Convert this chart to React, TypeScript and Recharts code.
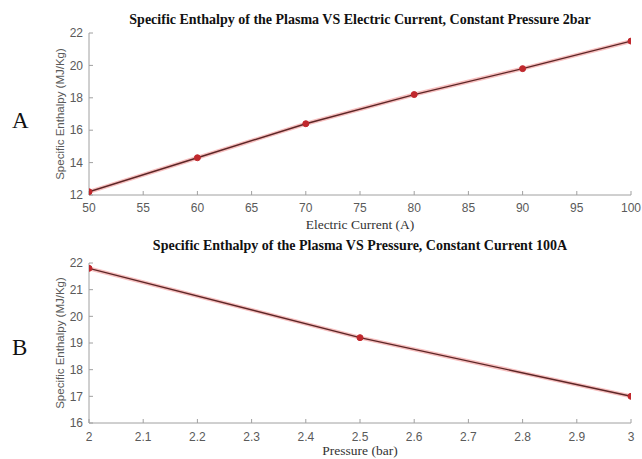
import { LineChart, Line, XAxis, YAxis, Label } from "recharts";

// chart A: enthalpy vs current, pressure fixed at 2 bar
const currentA = [50, 60, 70, 80, 90, 100];
const enthalpyA = [12.2, 14.3, 16.4, 18.2, 19.8, 21.5];
const currentTicks = [50, 55, 60, 65, 70, 75, 80, 85, 90, 95, 100];
const enthalpyTicksA = [12, 14, 16, 18, 20, 22];

// chart B: enthalpy vs pressure, current fixed at 100 A
const pressureB = [2, 2.5, 3];
const enthalpyB = [21.8, 19.2, 17.0];
const pressureTicks = [2, 2.1, 2.2, 2.3, 2.4, 2.5, 2.6, 2.7, 2.8, 2.9, 3];
const enthalpyTicksB = [16, 17, 18, 19, 20, 21, 22];

const dataA = currentA.map((x, i) => ({ x, y: enthalpyA[i] }));
const dataB = pressureB.map((x, i) => ({ x, y: enthalpyB[i] }));

const serif = "'Liberation Serif', 'Times New Roman', serif";
const sans = "'Liberation Sans', Arial, sans-serif";
const frame = "#a0a0a0";
const tickFont = { fill: "#5a5a5a", fontSize: 12, fontFamily: sans };

interface PanelProps {
  data: { x: number; y: number }[];
  xTicks: number[];
  yTicks: number[];
  xDomain: [number, number];
  yDomain: [number, number];
  xLabel: string;
  height: number;
  marginTop: number;
  plotHeight: number;
  xTickMargin: number;
  xLabelOffset: number;
}

function Panel(p: PanelProps) {
  return (
    <LineChart
      width={642}
      height={p.height}
      data={p.data}
      margin={{ top: p.marginTop, right: 11, left: 40, bottom: 0 }}
      style={{ overflow: "visible" }}
    >
      <XAxis
        xAxisId="b"
        dataKey="x"
        type="number"
        domain={p.xDomain}
        ticks={p.xTicks}
        allowDataOverflow
        stroke={frame}
        tick={tickFont}
        tickSize={-4}
        tickMargin={p.xTickMargin}
        height={p.height - p.marginTop - p.plotHeight}
      >
        <Label
          value={p.xLabel}
          position="insideBottom"
          offset={p.xLabelOffset}
          style={{ fill: "#333", fontSize: 13.5, fontFamily: serif }}
        />
      </XAxis>
      <XAxis
        xAxisId="t"
        orientation="top"
        dataKey="x"
        type="number"
        domain={p.xDomain}
        ticks={p.xTicks}
        allowDataOverflow
        stroke={frame}
        tick={false}
        mirror
        tickSize={4}
        height={0}
      />
      <YAxis
        yAxisId="l"
        type="number"
        domain={p.yDomain}
        ticks={p.yTicks}
        stroke={frame}
        tick={tickFont}
        tickSize={-4}
        tickMargin={10}
        width={49}
      >
        <Label
          value="Specific Enthalpy (MJ/Kg)"
          angle={-90}
          position="insideLeft"
          offset={20}
          style={{ textAnchor: "middle", fill: "#5a5a5a", fontSize: 11.5, fontFamily: sans }}
        />
      </YAxis>
      <YAxis
        yAxisId="r"
        orientation="right"
        type="number"
        domain={p.yDomain}
        ticks={p.yTicks}
        stroke={frame}
        tick={false}
        mirror
        tickSize={4}
        width={0}
      />
      <Line
        xAxisId="b"
        yAxisId="l"
        type="linear"
        dataKey="y"
        stroke="#f08080"
        strokeOpacity={0.5}
        strokeWidth={4}
        dot={false}
        isAnimationActive={false}
      />
      <Line
        xAxisId="b"
        yAxisId="l"
        type="linear"
        dataKey="y"
        stroke="#5c2626"
        strokeWidth={1.4}
        dot={{ r: 3, fill: "#c0282d", stroke: "#c0282d", strokeWidth: 1 }}
        isAnimationActive={false}
      />
    </LineChart>
  );
}

const titleStyle: React.CSSProperties = {
  position: "absolute",
  left: 89,
  width: 542,
  lineHeight: "16px",
  textAlign: "center",
  fontFamily: serif,
  fontWeight: "bold",
  fontSize: 14,
  color: "#111",
  whiteSpace: "nowrap",
};

const letterStyle: React.CSSProperties = {
  position: "absolute",
  left: 12,
  lineHeight: "24px",
  fontFamily: serif,
  fontSize: 23,
  color: "#111",
};

export default function App() {
  return (
    <div style={{ position: "absolute", left: 0, top: 0, width: 642, height: 459, background: "#fff" }}>
      <div style={{ position: "absolute", left: 0, top: 0 }}>
        <Panel
          data={dataA}
          xTicks={currentTicks}
          yTicks={enthalpyTicksA}
          xDomain={[50, 100]}
          yDomain={[12, 22]}
          xLabel="Electric Current (A)"
          height={232}
          marginTop={33}
          plotHeight={162}
          xTickMargin={12}
          xLabelOffset={3}
        />
      </div>
      <div style={{ position: "absolute", left: 0, top: 232 }}>
        <Panel
          data={dataB}
          xTicks={pressureTicks}
          yTicks={enthalpyTicksB}
          xDomain={[2, 3]}
          yDomain={[16, 22]}
          xLabel="Pressure (bar)"
          height={227}
          marginTop={31}
          plotHeight={160}
          xTickMargin={13}
          xLabelOffset={4}
        />
      </div>
      <div style={{ ...titleStyle, top: 12 }}>
        Specific Enthalpy of the Plasma VS Electric Current, Constant Pressure 2bar
      </div>
      <div style={{ ...titleStyle, top: 238 }}>
        Specific Enthalpy of the Plasma VS Pressure, Constant Current 100A
      </div>
      <div style={{ ...letterStyle, top: 109 }}>A</div>
      <div style={{ ...letterStyle, top: 336 }}>B</div>
    </div>
  );
}
